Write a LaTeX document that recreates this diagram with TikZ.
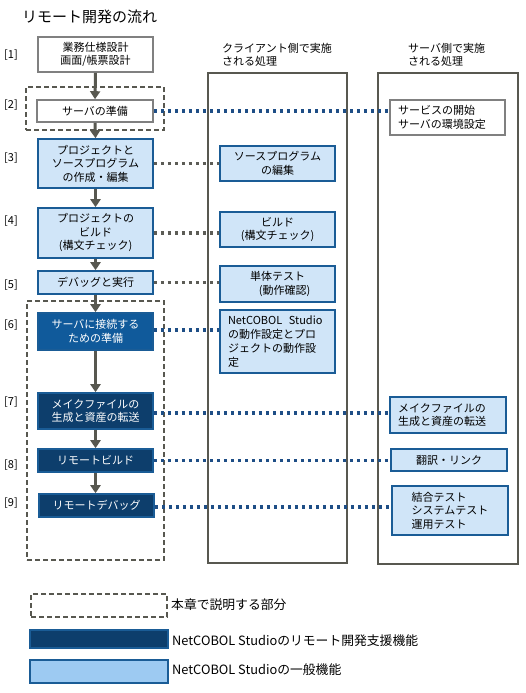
\documentclass[tikz,border=0pt]{standalone}
\usepackage{fontspec}
\setmainfont{Noto Sans CJK JP}
\usetikzlibrary{arrows.meta}
\definecolor{lblue}{HTML}{D0E5F8}
\definecolor{bborder}{HTML}{1A5C96}
\definecolor{dblue}{HTML}{105A9B}
\definecolor{navy}{HTML}{0D3E6C}
\definecolor{gline}{HTML}{585850}
\definecolor{gbox}{HTML}{808080}
\definecolor{legblue}{HTML}{9DCAF2}
\definecolor{dotblue}{HTML}{1E4E86}
\definecolor{dotgray}{HTML}{5C5C56}
\begin{document}
\begin{tikzpicture}[x=1pt,y=-1pt,
  txt/.style={font=\fontsize{11}{13.5}\selectfont, inner sep=0pt},
  wbox/.style={draw=gbox, fill=white, line width=1.6pt, txt, align=center},
  lbox/.style={draw=bborder, fill=lblue, line width=1.6pt, txt, align=center},
  nbox/.style={draw=bborder, fill=navy, text=white, line width=1.6pt, txt, align=center},
  dbox/.style={draw=bborder, fill=dblue, text=white, line width=1.6pt, txt, align=center},
  dashbox/.style={draw=gline, line width=1.6pt, dash pattern=on 5pt off 3pt, inner sep=0pt},
  colbox/.style={draw=gline, line width=2.2pt, inner sep=0pt},
  arr/.style={draw=gline, line width=3pt, -{Triangle[length=8pt,width=10pt]}},
  bdot/.style={draw=dotblue, line width=3.5pt, dash pattern=on 3.5pt off 3.5pt},
  gdot/.style={draw=dotgray, line width=3.5pt, dash pattern=on 3.5pt off 3.5pt},
  numlbl/.style={txt, anchor=west},
  hdr/.style={txt, anchor=north west, align=left},
  legtxt/.style={font=\fontsize{12.8}{15}\selectfont, inner sep=0pt, anchor=west}
]
\useasboundingbox (0,0) rectangle (526,693);

% title
\node[font=\fontsize{15}{17}\selectfont, inner sep=0pt, anchor=west] (title) at (22,17) {リモート開発の流れ};

% columns
\node[colbox, minimum width=139, minimum height=490] (colc) at (277.5,318) {};
\node[colbox, minimum width=140, minimum height=491] (cols) at (448,318.5) {};
\node[hdr] (hc) at (222,43) {クライアント側で実施\\される処理};
\node[hdr] (hs) at (408,43) {サーバ側で実施\\される処理};

% dashed boxes
\node[dashbox, minimum width=138, minimum height=43] (d1) at (95,108.5) {};
\node[dashbox, minimum width=137, minimum height=259] (d2) at (95.5,430.5) {};

% step labels
\node[numlbl] (n1) at (4,55) {[1]};
\node[numlbl] (n2) at (4,105) {[2]};
\node[numlbl] (n3) at (4,158) {[3]};
\node[numlbl] (n4) at (4,221) {[4]};
\node[numlbl] (n5) at (4,285) {[5]};
\node[numlbl] (n6) at (4,325) {[6]};
\node[numlbl] (n7) at (4,402) {[7]};
\node[numlbl] (n8) at (4,465) {[8]};
\node[numlbl] (n9) at (4,503) {[9]};

% left flow boxes
\node[wbox, minimum width=115, minimum height=35] (b1) at (95.5,54.5) {業務仕様設計\\画面/帳票設計};
\node[wbox, minimum width=116, minimum height=22] (b2) at (95,111) {サーバの準備};
\node[lbox, minimum width=115, minimum height=49] (b3) at (95.5,163.5) {プロジェクトと\\ソースプログラム\\の作成・編集};
\node[lbox, minimum width=115, minimum height=50] (b4) at (95.5,233) {プロジェクトの\\ビルド\\(構文チェック)};
\node[lbox, minimum width=115, minimum height=23] (b5) at (95.5,282.5) {デバッグと実行};
\node[dbox, minimum width=115, minimum height=37] (b6) at (95.5,331.5) {サーバに接続する\\ための準備};
\node[nbox, minimum width=115, minimum height=36] (b7) at (95.5,411) {メイクファイルの\\生成と資産の転送};
\node[nbox, minimum width=115, minimum height=23] (b8) at (95.5,460.5) {リモートビルド};
\node[nbox, minimum width=115, minimum height=23] (b9) at (96.5,505.5) {リモートデバッグ};

% client boxes
\node[lbox, minimum width=115, minimum height=35] (c3) at (277.5,163.5) {ソースプログラム\\の編集};
\node[lbox, minimum width=115, minimum height=35] (c4) at (277.5,229.5) {ビルド\\(構文チェック)};
\node[lbox, minimum width=115, minimum height=36] (c5) at (277.5,284) {単体テスト\\\hspace*{14pt}(動作確認)};
\node[lbox, minimum width=115, minimum height=63, align=left, text width=99, font=\fontsize{11}{14.2}\selectfont] (c6) at (277.5,341.5) {NetCOBOL\hspace{0.6em}Studio\\の動作設定とプロ\\ジェクトの動作設\\定};

% server boxes
\node[wbox, minimum width=115, minimum height=35, align=left, text width=99] (s2) at (447.5,117.5) {サービスの開始\\サーバの環境設定};
\node[lbox, minimum width=116, minimum height=36, align=left, text width=100] (s7) at (448,415) {メイクファイルの\\生成と資産の転送};
\node[lbox, minimum width=116, minimum height=22] (s8) at (449,460) {翻訳・リンク};
\node[lbox, minimum width=116, minimum height=49, align=left] (s9) at (450,510.5) {結合テスト\\システムテスト\\運用テスト};

% dotted connectors
\draw[bdot] (b2.east) -- (b2.east -| s2.west);
\draw[gdot] (b3.east) -- (b3.east -| c3.west);
\draw[gdot] (b4.east) -- (b4.east -| c4.west);
\draw[gdot] (b5.east) -- (b5.east -| c5.west);
\draw[bdot] ([yshift=1.5pt]b6.east) -- ([yshift=1.5pt]b6.east -| c6.west);
\draw[bdot] ([yshift=-2pt]b7.east) -- ([yshift=-2pt]b7.east -| s7.west);
\draw[bdot] (b8.east) -- (b8.east -| s8.west);
\draw[bdot] ([yshift=-1.5pt]b9.east) -- ([yshift=-1.5pt]b9.east -| s9.west);

% arrows
\draw[arr] (b1.south) -- (b2.north);
\draw[arr] (b2.south) -- (b3.north);
\draw[arr] (b3.south) -- (b4.north);
\draw[arr] (b4.south) -- (b5.north);
\draw[arr] (b5.south) -- (b6.north);
\draw[arr] (b6.south) -- (b7.north);
\draw[arr] (b7.south) -- (b8.north);
\draw[arr] (b8.south) -- (b8.south |- b9.north);

% legend
\node[dashbox, minimum width=136, minimum height=23] (l1) at (99,605.5) {};
\node[legtxt] (t1) at (171,605) {本章で説明する部分};
\node[draw=bborder, fill=navy, line width=1.6pt, minimum width=138, minimum height=18, inner sep=0pt] (l2) at (99,639) {};
\node[legtxt] (t2) at (172,641) {NetCOBOL Studioのリモート開発支援機能};
\node[draw=bborder, fill=legblue, line width=1.6pt, minimum width=138, minimum height=23, inner sep=0pt] (l3) at (99,671.5) {};
\node[legtxt] (t3) at (172,670) {NetCOBOL Studioの一般機能};
\end{tikzpicture}
\end{document}
